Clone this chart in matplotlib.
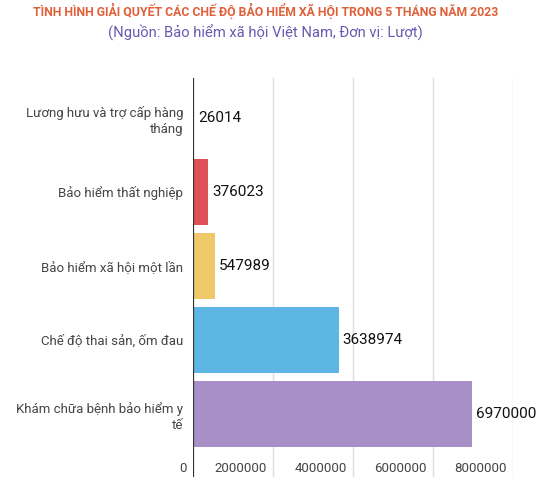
import matplotlib
matplotlib.use("Agg")
import matplotlib.pyplot as plt
from matplotlib.transforms import ScaledTranslation, blended_transform_factory

categories = [
    "Lương hưu và trợ cấp hàng\ntháng",
    "Bảo hiểm thất nghiệp",
    "Bảo hiểm xã hội một lần",
    "Chế độ thai sản, ốm đau",
    "Khám chữa bệnh bảo hiểm y\ntế",
]
values = [26014, 376023, 547989, 3638974, 6970000]
colors = ["#3fa7a0", "#df4f57", "#efc86a", "#5db6e4", "#a98fc7"]
xticks = [0, 2000000, 4000000, 6000000, 8000000]
xtick_labels = ["0", "2000000", "4000000", "6000000", "8000000"]

title = "TÌNH HÌNH GIẢI QUYẾT CÁC CHẾ ĐỘ BẢO HIỂM XÃ HỘI TRONG 5 THÁNG NĂM 2023"
subtitle = "(Nguồn: Bảo hiểm xã hội Việt Nam, Đơn vị: Lượt)"

plt.rcParams["font.family"] = ["Roboto", "DejaVu Sans"]

W, H = 558, 488
fig = plt.figure(figsize=(W / 100, H / 100), dpi=100)
ax = fig.add_axes([193 / W, 11 / H, 320 / W, 399 / H])

ypos = list(range(len(categories)))
ax.barh(ypos, values, height=0.89, color=colors, zorder=2)
ax.set_ylim(4 + 63 / 74, -40 / 74)
ax.set_xlim(0, 8000000)

for v in xticks[1:]:
    ax.axvline(v, color="#dddddd", lw=1, zorder=1)
ax.axvline(0, color="#333333", lw=1.6, zorder=3)

for s in ax.spines.values():
    s.set_visible(False)
ax.set_xticks([])
ax.set_yticks(ypos)
ax.set_yticklabels(categories, fontsize=9.5, color="#444444", linespacing=1.3)
ax.tick_params(axis="y", length=0, pad=7.2)

# x tick labels inside the axes bottom, right-aligned to the gridline
tr = blended_transform_factory(ax.transData, ax.transAxes)
off = ScaledTranslation(-6 / 100, 0, fig.dpi_scale_trans)
for v, lab in zip(xticks, xtick_labels):
    ax.text(v, 8 / 399, lab, transform=tr + off, ha="right", va="center",
            fontsize=9.5, color="#444444")

# value labels
voff = ScaledTranslation(4 / 100, 0, fig.dpi_scale_trans)
for y, v in zip(ypos, values):
    ax.text(v, y, str(v), transform=ax.transData + voff, ha="left", va="center",
            fontsize=11, color="#111111", clip_on=False)

fig.text(266 / W, 1 - 11 / H, title, ha="center", va="center", fontsize=8.8,
         fontweight="bold", color="#e0603a")
fig.text(265 / W, 1 - 33 / H, subtitle, ha="center", va="center", fontsize=10.6,
         color="#6a58b0")

fig.savefig("out.png", dpi=100)
